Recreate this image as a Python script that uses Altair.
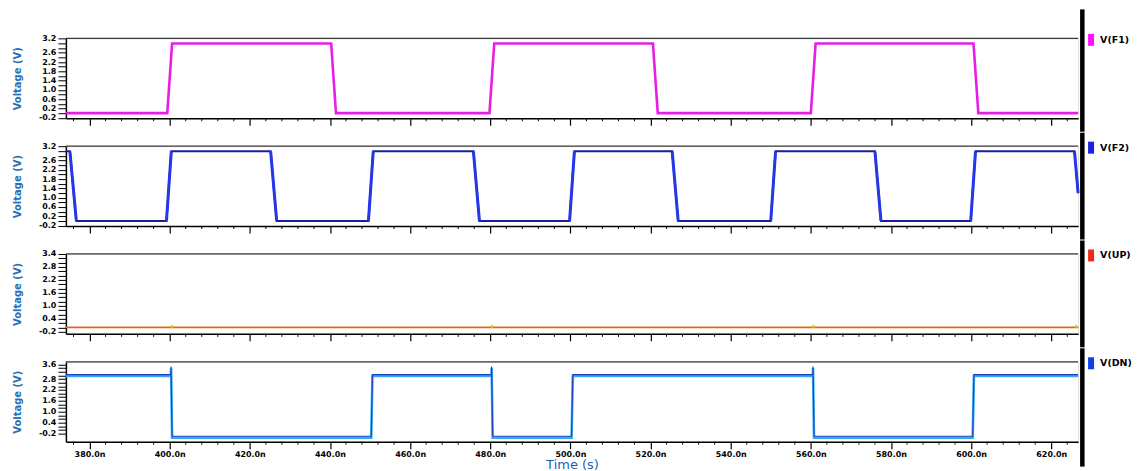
import json
import altair as alt
import pandas as pd

# ---------------- data ----------------
X_DOMAIN = [374.1, 626.7]
X_MAJOR = [380, 400, 420, 440, 460, 480, 500, 520, 540, 560, 580, 600, 620]
X_MINOR = [t for t in range(376, 627, 4) if t % 20 != 0]

# F1 (period 80 ns)
F1_T = [374.1, 399.4, 400.6, 440.3, 441.5, 479.8, 481.0, 520.6, 521.8, 560.0, 561.2, 600.6, 601.8, 626.7]
F1_V = [0.0, 0.0, 3.0, 3.0, 0.0, 0.0, 3.0, 3.0, 0.0, 0.0, 3.0, 3.0, 0.0, 0.0]

# F2 (period 50 ns)
F2_T = [374.1, 375.1, 376.7, 399.2, 400.4, 425.2, 426.7, 449.6, 450.8, 475.8, 477.3,
        499.8, 501.0, 525.4, 526.9, 550.0, 551.2, 576.0, 577.5, 599.9, 601.1, 625.8, 626.7]
F2_V = [3.0, 3.0, 0.0, 0.0, 3.0, 3.0, 0.0, 0.0, 3.0, 3.0, 0.0,
        0.0, 3.0, 3.0, 0.0, 0.0, 3.0, 3.0, 0.0, 0.0, 3.0, 3.0, 1.2]

# UP (flat) and its tiny glitches
UP_T = [374.1, 626.7]
UP_V = [0.0, 0.0]
UP_GLITCH_T = [400.5, 480.5, 560.7, 626.2]
UP_GLITCH_V = [0.05, 0.05, 0.05, 0.05]

# DN
DN_T = [374.1, 400.3, 400.35, 400.6, 450.3, 450.6, 480.3, 480.35, 480.6, 500.3, 500.6,
        560.5, 560.55, 560.8, 600.4, 600.7, 626.7]
DN_V = [3.0, 3.0, 3.45, -0.4, -0.4, 3.0, 3.0, 3.45, -0.4, -0.4, 3.0,
        3.0, 3.45, -0.4, -0.4, 3.0, 3.0]

# axes
F_YDOM = [-0.22, 3.22]
F_YTICKS = [round(-0.2 + 0.2 * k, 1) for k in range(18)]
F_YLABELS = [-0.2, 0.2, 0.6, 1.0, 1.4, 1.8, 2.2, 2.6, 3.2]

UP_YDOM = [-0.3, 3.4]
UP_YTICKS = [round(-0.2 + 0.2 * k, 1) for k in range(19)]
UP_YLABELS = [-0.2, 0.4, 1.0, 1.6, 2.2, 2.8, 3.4]

DN_YDOM = [-0.65, 3.75]
DN_YTICKS = [round(-0.2 + 0.2 * k, 1) for k in range(20)]
DN_YLABELS = [-0.2, 0.4, 1.0, 1.6, 2.2, 2.8, 3.6]

NAMES = ["V(F1)", "V(F2)", "V(UP)", "V(DN)"]
LEGEND_COLORS = ["#ff10ff", "#1a22e0", "#f02a18", "#1040e8"]

# ---------------- layout ----------------
W = 1014
H = 80
FONT = "DejaVu Sans"
XSCALE = alt.Scale(domain=X_DOMAIN, nice=False, zero=False)


def yaxis(ticks, labels):
    expr = ("indexof(%s, datum.value) >= 0 ? replace(format(datum.value, '.1f'), '\u2212', '-') : ''"
            % json.dumps(labels))
    return alt.Axis(values=ticks, labelExpr=expr, title="Voltage (V)", tickSize=8,
                    labelPadding=2, labelFontSize=8, labelFontWeight="bold", labelFont=FONT,
                    labelColor="black", titleFontSize=10, titleFontWeight="bold",
                    titleFont=FONT, titleColor="#2a6fb5", titlePadding=5,
                    minExtent=38, maxExtent=38, domainColor="black", domainWidth=1.5,
                    tickColor="black", tickWidth=1, grid=False, labelOverlap=False)


def xaxis(last):
    kw = dict(values=X_MAJOR, tickSize=7, tickColor="black", tickWidth=1.2,
              domainColor="black", domainWidth=1.5, grid=False)
    if last:
        kw.update(labels=True, labelExpr="format(datum.value, '.1f') + 'n'", labelFontSize=8,
                  labelFontWeight="bold", labelFont=FONT, labelColor="black", labelPadding=2,
                  title="Time (s)", titleFontSize=13, titleFontWeight="normal", titleFont=FONT,
                  titleColor="#1e5fb4", titleY=23, titleBaseline="middle")
    else:
        kw.update(labels=False, title="")
    return alt.Axis(**kw)


def enc(ydom, ax_x, ax_y):
    return dict(
        x=alt.X("t:Q", scale=XSCALE, axis=ax_x),
        y=alt.Y("v:Q", scale=alt.Scale(domain=ydom, nice=False, zero=False), axis=ax_y),
    )


def panel(idx, traces, ydom, yticks, ylabels, top_ext, bot_ext, last, extra=None):
    ax_y = yaxis(yticks, ylabels)
    ax_x = xaxis(last)
    one = pd.DataFrame({"a": [0]})
    layers = []
    # minor x ticks
    layers.append(alt.Chart(pd.DataFrame({"t": X_MINOR})).mark_rule(color="black", strokeWidth=1).encode(
        x=alt.X("t:Q", scale=XSCALE, axis=ax_x), y=alt.value(H), y2=alt.value(H + 3)))
    # top border
    layers.append(alt.Chart(one).mark_rule(color="#3a3a3a", strokeWidth=1.3).encode(
        x=alt.value(0), x2=alt.value(W), y=alt.value(0)))
    for (t, v, c, w, yo) in traces:
        df = pd.DataFrame({"t": t, "v": v})
        layers.append(alt.Chart(df).mark_line(color=c, strokeWidth=w, yOffset=yo).encode(
            **enc(ydom, ax_x, ax_y)))
    if extra is not None:
        layers.append(extra(ydom, ax_x, ax_y))
    # legend
    layers.append(alt.Chart(pd.DataFrame({"n": [NAMES[idx]]})).mark_rect(color=LEGEND_COLORS[idx]).encode(
        x=alt.value(W + 10), x2=alt.value(W + 16), y=alt.value(-4.5), y2=alt.value(7.5)))
    layers.append(alt.Chart(pd.DataFrame({"n": [NAMES[idx]]})).mark_text(
        align="left", baseline="middle", font=FONT, fontSize=9.5, fontWeight="bold", color="black").encode(
        x=alt.value(W + 22), y=alt.value(1.5), text="n:N"))
    # thick black vertical bar on the right
    layers.append(alt.Chart(one).mark_rect(color="black").encode(
        x=alt.value(W + 2), x2=alt.value(W + 6.5), y=alt.value(top_ext), y2=alt.value(bot_ext)))
    return alt.layer(*layers).properties(width=W, height=H)


# F2 bright transition segments
f2_seg_t, f2_seg_v, f2_seg_id = [], [], []
for i in range(len(F2_T) - 1):
    if F2_V[i] != F2_V[i + 1]:
        f2_seg_t += [F2_T[i], F2_T[i + 1]]
        f2_seg_v += [F2_V[i], F2_V[i + 1]]
        f2_seg_id += [i, i]


def f2_edges(ydom, ax_x, ax_y):
    return alt.Chart(pd.DataFrame({"t": f2_seg_t, "v": f2_seg_v, "s": f2_seg_id})).mark_line(
        color="#2438e8", strokeWidth=3.0).encode(detail="s:N", **enc(ydom, ax_x, ax_y))


def up_glitch(ydom, ax_x, ax_y):
    return alt.Chart(pd.DataFrame({"t": UP_GLITCH_T, "v": UP_GLITCH_V})).mark_point(
        filled=True, color="#f2c400", size=14, shape="diamond", opacity=0.9).encode(
        **enc(ydom, ax_x, ax_y))


p1 = panel(0, [(F1_T, F1_V, "#e81ee8", 2.6, 0)], F_YDOM, F_YTICKS, F_YLABELS, -29, H + 13.5, False)
p2 = panel(1, [(F2_T, F2_V, "#1c1c9e", 2.0, 0)], F_YDOM, F_YTICKS, F_YLABELS, -13.5, H + 13.5, False,
           extra=f2_edges)
p3 = panel(2, [(UP_T, UP_V, "#e8641c", 1.6, 0)], UP_YDOM, UP_YTICKS, UP_YLABELS, -13.5, H + 13.5, False,
           extra=up_glitch)
p4 = panel(3, [(DN_T, DN_V, "#35aaf2", 2.6, 0.6), (DN_T, DN_V, "#1d3fbf", 1.1, -0.8)],
           DN_YDOM, DN_YTICKS, DN_YLABELS, -13.5, 105, True)

chart = alt.vconcat(p1, p2, p3, p4, spacing=0).properties(
    padding={"left": 4, "top": 0, "right": 0, "bottom": 0}).configure_view(
    stroke=None).configure(background="white")

chart.save("out.html", embed_options={"renderer": "svg", "actions": False})
